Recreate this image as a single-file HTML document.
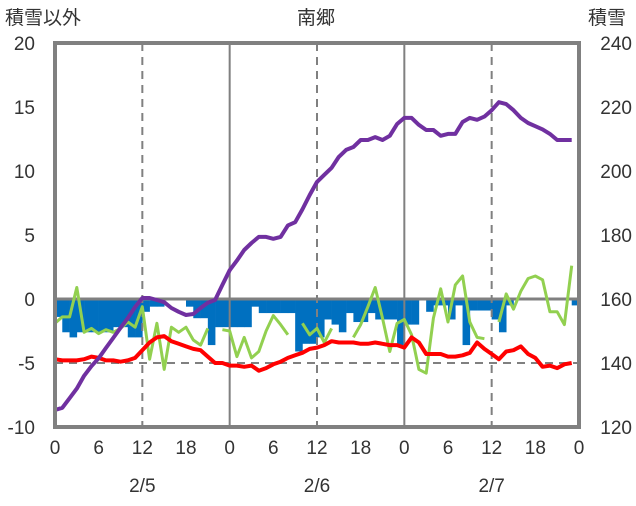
<!DOCTYPE html>
<html><head><meta charset="utf-8"><style>
body{margin:0;background:#fff;width:636px;height:501px;overflow:hidden}
svg text{font-family:"Liberation Sans","Noto Sans CJK JP",sans-serif;fill:#333}
</style></head><body>
<svg id="chart" width="636" height="501" viewBox="0 0 636 501" xmlns="http://www.w3.org/2000/svg">
<g id="bars"></g>
<g id="grid"></g>
<g id="lines"></g>
<g id="axes"></g>
<text x="5" y="24" font-size="19">積雪以外</text>
<text x="316" y="24" font-size="19" text-anchor="middle">南郷</text>
<text x="588" y="24" font-size="19">積雪</text>
</svg>
<script>
const hours = [0,6,12,18,0,6,12,18,0,6,12,18,0];
const leftTicks = [20,15,10,5,0,-5,-10];
const rightTicks = [240,220,200,180,160,140,120];
const dates = ["2/5","2/6","2/7"];
const snowDepth = [125.3,126,129,132,136,139,141.5,144.7,147.8,151,154,157.5,160.3,160.3,159.7,159,157.2,156,155,155.3,157.2,158.8,159.7,164.4,169,172,175.3,177.5,179.4,179.4,178.8,179.4,183,184,188,192.5,196.6,198.8,201,204.4,206.6,207.5,209.7,209.7,210.6,209.7,211,214.7,216.6,216.6,214.4,212.8,212.8,211,211.6,211.6,215.3,216.6,216,217,219,221.5,220.9,219,216.6,215,214,213,211.6,209.7,209.7,209.7];
const temperature = [-4.7,-4.8,-4.8,-4.8,-4.7,-4.5,-4.6,-4.8,-4.8,-4.9,-4.8,-4.6,-4.0,-3.4,-3.0,-2.9,-3.3,-3.5,-3.7,-3.9,-4.0,-4.5,-5.0,-5.0,-5.2,-5.2,-5.3,-5.2,-5.6,-5.4,-5.1,-4.9,-4.6,-4.4,-4.2,-3.9,-3.8,-3.6,-3.3,-3.4,-3.4,-3.4,-3.5,-3.5,-3.4,-3.5,-3.6,-3.6,-3.8,-3.0,-3.4,-4.3,-4.3,-4.3,-4.5,-4.5,-4.4,-4.2,-3.4,-3.9,-4.3,-4.7,-4.1,-4.0,-3.7,-4.3,-4.6,-5.3,-5.2,-5.4,-5.1,-5.0];
const greenSeries = [-1.9,-1.4,-1.4,0.9,-2.6,-2.3,-2.7,-2.4,-2.6,-2.3,-1.8,-2.2,-0.6,-4.7,-1.9,-5.5,-2.2,-2.6,-2.2,-3.2,-3.6,-2.3,null,-2.4,-2.5,-4.5,-3.0,-4.6,-4.1,-2.5,-1.3,-2.0,-2.8,null,-1.9,-2.8,-2.3,-3.4,-2.3,null,null,-3.0,-2.0,-0.6,0.9,-1.5,-4.1,-1.9,-1.6,-2.8,-5.5,-5.8,-1.5,0.8,-1.8,1.1,1.8,-1.8,-3.0,-3.1,null,-1.8,0.4,-0.8,0.6,1.6,1.8,1.5,-1.0,-1.0,-2.0,2.6];
const barValues = [-1.4,-2.6,-3.0,-2.6,-2.6,-2.6,-2.6,-2.6,-2.2,-2.2,-3.0,-3.0,-1.0,-0.6,-0.6,0,0,0,-0.6,-1.5,-1.5,-3.6,-2.2,-2.2,-2.2,-2.2,-2.2,-0.6,-1.1,-1.1,-1.1,-1.1,-1.1,-4.1,-3.5,-3.5,-3.0,-1.6,-2.0,-2.6,-1.1,-1.8,-1.8,-1.1,-1.6,-1.6,-1.6,-3.6,-2.0,-2.0,0,-1.0,-0.5,-0.5,-1.6,-0.5,-3.6,-0.9,-0.9,-0.9,-1.6,-2.6,-0.5,0,0,0,0,0,0,0,0,-0.5];

const X0=55,X1=579,Y0=43,Y1=427;
const xS=h=>X0+(X1-X0)*h/72;
const yL=v=>Y1-(v+10)/30*(Y1-Y0);
const yR=s=>Y1-(s-120)/120*(Y1-Y0);
const NS="http://www.w3.org/2000/svg";
function mk(tag,attrs,parent){const e=document.createElementNS(NS,tag);for(const k in attrs)e.setAttribute(k,attrs[k]);parent.appendChild(e);return e;}
const gB=document.getElementById('bars'),gG=document.getElementById('grid'),gL=document.getElementById('lines'),gA=document.getElementById('axes');

barValues.forEach((v,i)=>{if(v===0)return;
 const r=mk('rect',{x:xS(i),y:yL(0),width:xS(i+1)-xS(i)+0.3,height:yL(v)-yL(0),fill:'#0070c0'},gB);
 
 
});
// grid
for(let h=12;h<72;h+=12){
 const solid=h%24===0;
 const l=mk('line',{x1:xS(h),x2:xS(h),y1:Y0,y2:Y1,stroke:'#808080','stroke-width':2,'stroke-dasharray':solid?'none':'8,6'},gG);
 
 
}
const hl=mk('line',{x1:X0,x2:X1,y1:yL(-5),y2:yL(-5),stroke:'#808080','stroke-width':2,'stroke-dasharray':'8,6'},gG);


const zl=mk('line',{x1:X0,x2:X1,y1:yL(0),y2:yL(0),stroke:'#808080','stroke-width':3},gG);



function pathOf(arr,yf){let d='',pen=false;arr.forEach((v,i)=>{if(v===null){pen=false;return;}d+=(pen?'L':'M')+xS(i).toFixed(1)+','+yf(v).toFixed(1);pen=true;});return d;}
const pg=mk('path',{d:pathOf(greenSeries,yL),fill:'none',stroke:'#92d050','stroke-width':3,'stroke-linejoin':'round'},gL);


const pr=mk('path',{d:pathOf(temperature,yL),fill:'none',stroke:'#ff0000','stroke-width':4,'stroke-linejoin':'round'},gL);


const pp=mk('path',{d:pathOf(snowDepth,yR),fill:'none',stroke:'#7030a0','stroke-width':4,'stroke-linejoin':'round'},gL);



const fr=mk('rect',{x:X0,y:Y0,width:X1-X0,height:Y1-Y0,fill:'none',stroke:'#808080','stroke-width':4},gA);


leftTicks.forEach(v=>{const t=mk('text',{x:35,y:yL(v)+7,'font-size':19,'text-anchor':'end'},gA);t.textContent=v;
 
 });
rightTicks.forEach(v=>{const t=mk('text',{x:632,y:yR(v)+7,'font-size':19,'text-anchor':'end'},gA);t.textContent=v;
 
 });
hours.forEach((h,i)=>{const t=mk('text',{x:xS(i*6),y:454,'font-size':19,'text-anchor':'middle'},gA);t.textContent=h;
 
 });
dates.forEach((d,i)=>{const t=mk('text',{x:xS(12+24*i),y:492,'font-size':19,'text-anchor':'middle'},gA);t.textContent=d;
 
 });
</script>
</body></html>
